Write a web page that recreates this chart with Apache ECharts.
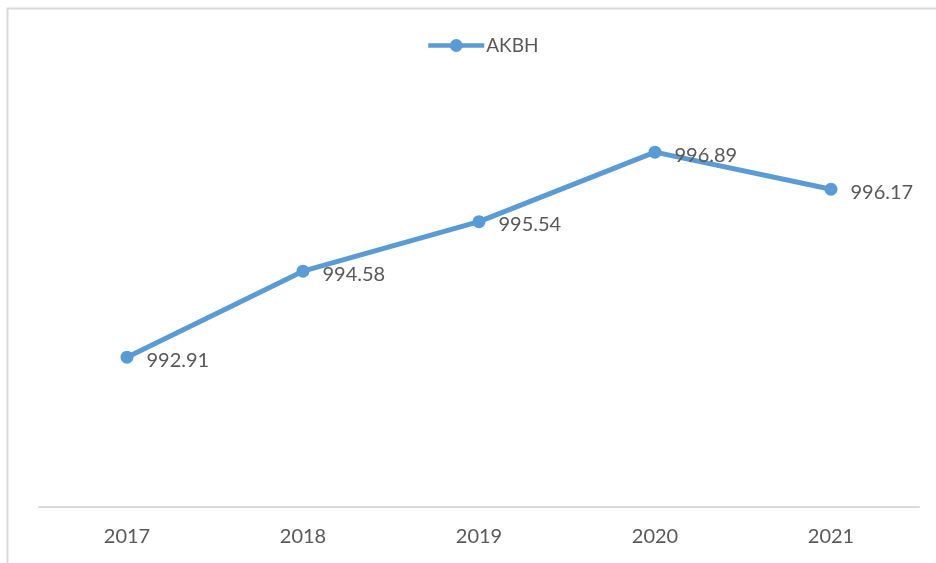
<!DOCTYPE html>
<html>
<head>
<meta charset="utf-8">
<script src="https://cdn.jsdelivr.net/npm/echarts@6/dist/echarts.min.js"></script>
<style>
  html, body { margin: 0; padding: 0; background: #fff; }
  #chart { width: 936px; height: 563px; }
</style>
</head>
<body>
<div id="chart"></div>
<script>
// data
const years = ['2017', '2018', '2019', '2020', '2021'];
const akbh = [992.91, 994.58, 995.54, 996.89, 996.17];
const seriesName = 'AKBH';

const textColor = '#595959';
const lineColor = '#5B9BD5';
const font = 'Lato, "Open Sans", sans-serif';

const chart = echarts.init(document.getElementById('chart'));

const option = {
  backgroundColor: '#fff',
  animation: false,
  graphic: [
    {
      type: 'rect',
      left: 5,
      top: 6,
      shape: { width: 940, height: 600 },
      style: { fill: 'none', stroke: '#d9d9d9', lineWidth: 2 },
      z: -1,
    },
  ],
  legend: {
    top: 36,
    left: 426,
    padding: 0,
    itemWidth: 56,
    itemHeight: 16,
    itemGap: 3,
    lineStyle: { width: 4.5 },
    textStyle: { color: textColor, fontSize: 19, fontFamily: font, padding: [0, 0, 0, -3] },
    data: [seriesName],
  },
  grid: {
    left: 39,
    right: 17,
    top: 95,
    bottom: 56,
  },
  xAxis: {
    type: 'category',
    data: years,
    boundaryGap: true,
    axisLine: { lineStyle: { color: '#d9d9d9', width: 2 } },
    axisTick: { show: false },
    axisLabel: {
      color: textColor,
      fontSize: 20,
      fontFamily: font,
      margin: 20,
    },
  },
  yAxis: {
    type: 'value',
    min: 990,
    max: 998,
    interval: 2,
    show: false,
    splitLine: { show: false },
  },
  series: [
    {
      name: seriesName,
      type: 'line',
      data: akbh,
      symbol: 'circle',
      symbolSize: 13,
      lineStyle: { color: lineColor, width: 5 },
      itemStyle: { color: lineColor },
      label: {
        show: true,
        position: 'right',
        distance: 13,
        offset: [0, 3],
        color: textColor,
        fontSize: 20,
        fontFamily: font,
        formatter: (p) => p.value.toFixed(2),
      },
    },
  ],
};

chart.setOption(option);
</script>
</body>
</html>
